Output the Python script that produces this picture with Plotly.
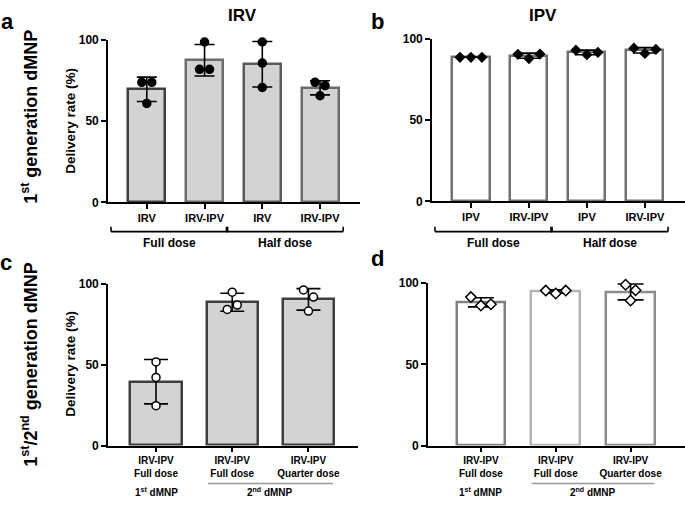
import numpy as np
import plotly.graph_objects as go

W, H = 685, 506
FONT = "Liberation Sans, Arial, sans-serif"

# ---------------- data ----------------
CATS_A = ["IRV", "IRV-IPV", "IRV", "IRV-IPV"]
PTS_A = [[74.0, 74.0, 61.0], [98.8, 82.0, 82.0], [98.8, 85.8, 70.8], [74.0, 72.0, 65.7]]
GROUPS_A = ["Full dose", "Half dose"]
GROUP_SIZES_A = [2, 2]

CATS_B = ["IPV", "IRV-IPV", "IPV", "IRV-IPV"]
PTS_B = [[88.8, 88.8, 88.8], [90.6, 88.0, 90.8], [93.2, 90.4, 91.8], [94.4, 91.2, 93.6]]
GROUPS_B = ["Full dose", "Half dose"]
GROUP_SIZES_B = [2, 2]

CATS_C = ["IRV-IPV<br>Full dose", "IRV-IPV<br>Full dose", "IRV-IPV<br>Quarter dose"]
PTS_C = [[51.8, 42.2, 24.7], [95.0, 84.3, 87.0], [96.4, 92.0, 83.3]]
CATS_D = ["IRV-IPV<br>Full dose", "IRV-IPV<br>Full dose", "IRV-IPV<br>Quarter dose"]
PTS_D = [[91.4, 86.2, 87.0], [95.4, 93.6, 95.4], [99.0, 95.6, 89.3]]
GROUPS_CD = ["1<sup>st</sup> dMNP", "2<sup>nd</sup> dMNP"]
GROUP_SIZES_CD = [1, 2]

Y_TICKS = [0, 50, 100]
TITLES = ["IRV", "IPV"]
ROW_LABELS = ["1<sup>st</sup> generation dMNP", "1<sup>st</sup>/2<sup>nd</sup> generation dMNP"]
Y_TITLE = "Delivery rate (%)"
LETTERS = ["a", "b", "c", "d"]

# ---------------- layout helpers ----------------
def fx(px):
    return px / W


def fy(py):
    return 1 - py / H


def bold(size, color="black"):
    return dict(family=FONT, size=size, color=color, weight="bold")


panels = [
    dict(key="", cats=CATS_A, pts=PTS_A, dom=(108, 360, 34, 201), lpad=0.672, bw=0.64,
         fill="#d3d3d3", border=["#3e3e3e", "#6c6c6c", "#5a5a5a", "#6c6c6c"],
         sym="circle", mfill="black", msize=8, sep=10, cap=10, tsize=11,
         groups=GROUPS_A, gsizes=GROUP_SIZES_A, style="bracket"),
    dict(key="2", cats=CATS_B, pts=PTS_B, dom=(432, 685, 33, 200), lpad=0.672, bw=0.64,
         fill="white", border=["#707070"] * 4,
         sym="diamond", mfill="black", msize=7, sep=11, cap=12, tsize=11,
         groups=GROUPS_B, gsizes=GROUP_SIZES_B, style="bracket"),
    dict(key="3", cats=CATS_C, pts=PTS_C, dom=(108, 358, 285, 451), lpad=0.63, bw=0.67,
         fill="#d3d3d3", border=["#3e3e3e"] * 3,
         sym="circle", mfill="white", msize=8, sep=10, cap=12, tsize=10,
         groups=GROUPS_CD, gsizes=GROUP_SIZES_CD, style="line"),
    dict(key="4", cats=CATS_D, pts=PTS_D, dom=(428, 685, 284, 451), lpad=0.707, bw=0.65,
         fill="white", border=["#808080", "#b4b4b4", "#8c8c8c"],
         sym="diamond", mfill="white", msize=8, sep=10, cap=13, tsize=10,
         groups=GROUPS_CD, gsizes=GROUP_SIZES_CD, style="line"),
]


def jitter(vals, px_per_val, sep_px, px_per_cat, thresh_px=9):
    order = sorted(range(len(vals)), key=lambda i: -vals[i])
    clusters, cur = [], [order[0]]
    for i in order[1:]:
        if abs(vals[cur[-1]] - vals[i]) * px_per_val < thresh_px:
            cur.append(i)
        else:
            clusters.append(cur)
            cur = [i]
    clusters.append(cur)
    offs = [0.0] * len(vals)
    for cl in clusters:
        cl = sorted(cl)
        k = len(cl)
        for j, i in enumerate(cl):
            offs[i] = (j - (k - 1) / 2) * sep_px / px_per_cat
    return offs


fig = go.Figure()
shapes, annotations = [], []
layout_axes = {}

for p in panels:
    x0, x1, yt, yb = p["dom"]
    n = len(p["cats"])
    xr = [-p["lpad"], n - 1 + p["lpad"] + 0.02]
    px_per_cat = (x1 - x0) / (xr[1] - xr[0])
    px_per_val = (yb - yt) / 100.0
    xa, ya = "x" + p["key"], "y" + p["key"]

    means = [float(np.mean(v)) for v in p["pts"]]
    sds = [float(np.std(v, ddof=1)) for v in p["pts"]]
    idx = list(range(n))

    fig.add_trace(go.Bar(
        x=idx, y=means, width=p["bw"], xaxis=xa, yaxis=ya,
        marker=dict(color=p["fill"], line=dict(color=p["border"], width=2.5)),
        error_y=dict(type="data", array=sds, visible=True, color="black",
                     thickness=1.6, width=p["cap"]),
        showlegend=False, hoverinfo="skip"))

    xs, ys = [], []
    for i, vals in enumerate(p["pts"]):
        offs = jitter(vals, px_per_val, p["sep"], px_per_cat)
        for v, o in zip(vals, offs):
            xs.append(i + o)
            ys.append(v)
    fig.add_trace(go.Scatter(
        x=xs, y=ys, mode="markers", xaxis=xa, yaxis=ya, cliponaxis=False,
        marker=dict(symbol=p["sym"], size=p["msize"], color=p["mfill"],
                    line=dict(color="black", width=1.5)),
        showlegend=False, hoverinfo="skip"))

    axn = "xaxis" + p["key"]
    ayn = "yaxis" + p["key"]
    layout_axes[axn] = dict(
        domain=[fx(x0), fx(x1)], range=xr, anchor=ya, showgrid=False, zeroline=False,
        showline=True, linecolor="black", linewidth=1.6,
        ticks="outside", ticklen=5, tickwidth=1.5, tickcolor="black",
        tickvals=idx, ticktext=p["cats"],
        tickfont=bold(p["tsize"]), fixedrange=True)
    layout_axes[ayn] = dict(
        domain=[fy(yb), fy(yt)], range=[0, 100], anchor=xa, showgrid=False, zeroline=False,
        showline=True, linecolor="black", linewidth=1.6,
        ticks="outside", ticklen=5, tickwidth=1.5, tickcolor="black",
        tickvals=Y_TICKS, ticktext=[str(t) for t in Y_TICKS],
        tickfont=bold(12), fixedrange=True)

    # group labels
    start = 0
    for lab, gs in zip(p["groups"], p["gsizes"]):
        a, b = start, start + gs - 1
        start += gs
        if p["style"] == "bracket":
            gl, gr = a - 0.62, b + 0.40
            ly = fy(231)
            ty = fy(226)
            for (sx0, sy0, sx1, sy1) in [(gl, ty, gl, ly), (gl, ly, gr, ly), (gr, ly, gr, ty)]:
                shapes.append(dict(type="line", xref=xa, yref="paper", x0=sx0, y0=sy0,
                                   x1=sx1, y1=sy1, line=dict(color="black", width=1.6)))
            annotations.append(dict(x=(gl + gr) / 2, y=fy(243), xref=xa, yref="paper",
                                    text=lab, showarrow=False, font=bold(12),
                                    xanchor="center", yanchor="middle"))
        else:
            if gs > 1:
                shapes.append(dict(type="line", xref=xa, yref="paper", x0=a - 0.32, x1=b + 0.32,
                                   y0=fy(490), y1=fy(490), line=dict(color="#999999", width=1.5)))
            annotations.append(dict(x=(a + b) / 2, y=fy(499), xref=xa, yref="paper",
                                    text=lab, showarrow=False, font=bold(10),
                                    xanchor="center", yanchor="middle"))

# titles
for t, (px, py) in zip(TITLES, [(243, 9), (543, 9)]):
    annotations.append(dict(x=fx(px), y=fy(py), xref="paper", yref="paper", text=t,
                            showarrow=False, font=bold(17),
                            xanchor="center", yanchor="middle"))
# letters
for t, (px, py) in zip(LETTERS, [(7, 15), (377, 15), (6, 263), (377, 259)]):
    annotations.append(dict(x=fx(px), y=fy(py), xref="paper", yref="paper", text=t,
                            showarrow=False, font=bold(22),
                            xanchor="center", yanchor="middle"))
# row labels
for t, py in zip(ROW_LABELS, [113, 368]):
    annotations.append(dict(x=fx(30), y=fy(py), xref="paper", yref="paper", text=t,
                            showarrow=False, textangle=-90, font=bold(18),
                            xanchor="center", yanchor="middle"))
# y titles
for py in [117, 367]:
    annotations.append(dict(x=fx(71), y=fy(py), xref="paper", yref="paper",
                            text=Y_TITLE, showarrow=False, textangle=-90, font=bold(13.5),
                            xanchor="center", yanchor="middle"))

fig.update_layout(
    width=W, height=H, margin=dict(l=0, r=0, t=0, b=0),
    paper_bgcolor="white", plot_bgcolor="white", bargap=0,
    shapes=shapes, annotations=annotations, **layout_axes)

fig.write_html("out.html", config={"displayModeBar": False},
               post_script="document.body.style.margin='0px';document.body.style.overflow='hidden';")
